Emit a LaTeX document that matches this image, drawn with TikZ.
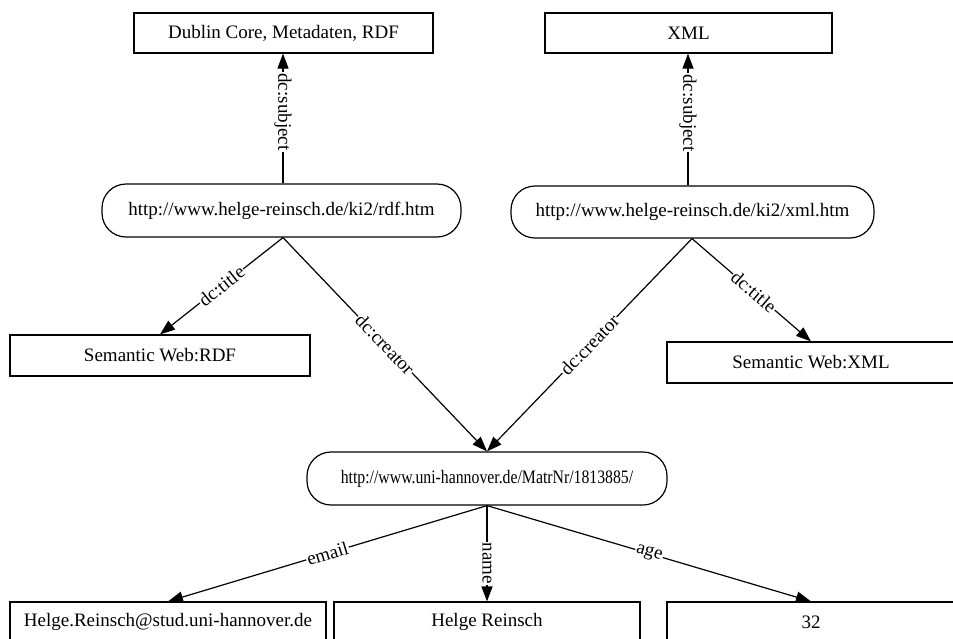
\documentclass[tikz,border=0pt]{standalone}
\usepackage{fontspec}
\setmainfont{Liberation Serif}
\usetikzlibrary{arrows.meta}
\begin{document}
\begin{tikzpicture}[x=1pt,y=-1pt,
  font=\fontsize{19}{21}\selectfont,
  box/.style={draw,line width=1.2pt,rectangle,inner sep=0pt},
  rbox/.style={draw,line width=1.2pt,rectangle,rounded corners=24pt,inner sep=0pt},
  conn/.style={line width=1.2pt,-{Triangle[length=15pt,width=11pt]}},
  lbl/.style={fill=white,inner sep=1pt,font=\fontsize{19}{21}\selectfont}
]
\useasboundingbox (0,0) rectangle (953,638);
\node[box,minimum width=299pt,minimum height=40pt] (dc) at (283.5,33) {Dublin Core, Metadaten, RDF};
\node[box,minimum width=287pt,minimum height=40pt] (xml) at (688.5,33) {XML};
\node[rbox,minimum width=359pt,minimum height=53pt] (rdf) at (281.5,210.5) {http://www.helge-reinsch.de/ki2/rdf.htm};
\node[rbox,minimum width=363pt,minimum height=52pt] (xmlh) at (692.5,212) {http://www.helge-reinsch.de/ki2/xml.htm};
\node[box,minimum width=300pt,minimum height=41pt] (swr) at (160,355.5) {Semantic Web:RDF};
\node[box,minimum width=288pt,minimum height=41pt] (swx) at (811,362.5) {Semantic Web:XML};
\node[rbox,minimum width=360pt,minimum height=53pt] (uni) at (487,478.5) {\scalebox{0.83}[1]{http://www.uni-hannover.de/MatrNr/1813885/}};
\node[box,minimum width=316pt,minimum height=40pt] (em) at (168,622) {Helge.Reinsch@stud.uni-hannover.de};
\node[box,minimum width=306pt,minimum height=40pt] (nm) at (487,622) {Helge Reinsch};
\node[box,minimum width=288pt,minimum height=40pt] (ag) at (811,622) {32};

\draw[conn] (rdf.north -| 283,0) -- (dc.south -| 283,0) node[lbl,pos=0.55,rotate=-90] {dc:subject};
\draw[conn] (xmlh.north -| 688,0) -- (xml.south -| 688,0) node[lbl,pos=0.55,rotate=-90] {dc:subject};
\draw[conn] (rdf.south -| 283,0) -- (swr.north) node[lbl,midway,sloped] {dc:title};
\draw[conn] (rdf.south -| 283,0) -- (uni.north) node[lbl,midway,sloped] {dc:creator};
\draw[conn] (xmlh.south -| 692,0) -- (uni.north) node[lbl,midway,sloped] {dc:creator};
\draw[conn] (xmlh.south -| 692,0) -- (swx.north) node[lbl,pos=0.52,sloped] {dc:title};
\draw[conn] (uni.south) -- (em.north) node[lbl,midway,sloped] {email};
\draw[conn] (uni.south) -- (nm.north) node[lbl,pos=0.6,rotate=-90] {name};
\draw[conn] (uni.south) -- (ag.north) node[lbl,midway,sloped] {age};
\end{tikzpicture}
\end{document}
